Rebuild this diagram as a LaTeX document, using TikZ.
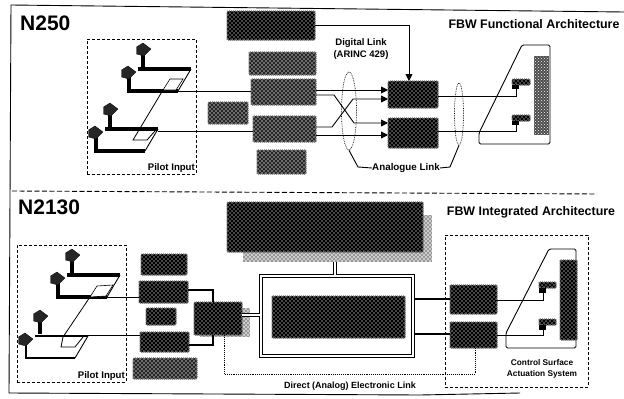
\documentclass[tikz,border=0pt]{standalone}
\usepackage{fontspec}
\setmainfont{Liberation Sans}
\usetikzlibrary{patterns,arrows.meta,shapes.geometric}
\pgfdeclarepatternformonly{hdots}{\pgfqpoint{-1pt}{-1pt}}{\pgfqpoint{3pt}{3pt}}{\pgfqpoint{4pt}{4pt}}{%
  \pgfpathcircle{\pgfqpoint{0pt}{0pt}}{0.8pt}\pgfpathcircle{\pgfqpoint{2pt}{2pt}}{0.8pt}\pgfusepath{fill}}
\tikzset{
  x=1pt,y=-1pt,
  blk/.style={rectangle,inner sep=0pt,outer sep=0pt,rounded corners=1pt,preaction={fill=black!85},pattern=hdots,pattern color=white!70!black,
     postaction={draw=black!55,line width=1.4pt,dash pattern=on 1pt off 1pt}},
  blkdark/.style={blk,preaction={fill=black},pattern color=black!45},
  panel/.style={rectangle,inner sep=0pt,outer sep=0pt,preaction={fill=black!70},pattern=crosshatch dots,pattern color=white},
  halo/.style={rectangle,inner sep=0pt,outer sep=0pt,preaction={fill=black!40},pattern=hdots,pattern color=white},
  frameline/.style={line width=0.9pt,black},
  dashbox/.style={rectangle,draw,inner sep=0pt,line width=0.9pt,dash pattern=on 3pt off 2pt},
  sep/.style={line width=0.9pt,dash pattern=on 5pt off 2.5pt},
  wire/.style={line width=0.9pt},
  wireb/.style={line width=1.1pt},
  arr/.style={wire,-{Triangle[length=7pt,width=7pt]}},
  dotl/.style={line width=0.9pt,densely dotted},
  ell/.style={ellipse,draw,line width=0.7pt,densely dotted,inner sep=0pt},
  lab/.style={font=\bfseries\fontsize{#1}{#1}\selectfont,inner sep=0pt,align=center},
  lab/.default=10,
  grippt/.style={fill=black!85,draw=black,line width=0.3pt},
  tailline/.style={line width=0.9pt,rounded corners=1.5pt},
}
\newcommand{\blk}[6][blk]{\node[#1,minimum width={(#5-#3)*1pt},minimum height={(#6-#4)*1pt}] (#2) at ({(#3+#5)/2},{(#4+#6)/2}) {};}
\newcommand{\grip}[2]{\begin{scope}[shift={(#1,#2)}]\fill[grippt] (-6.5,-3) -- (0,-7) -- (8,-1) -- (1,6) -- (-6.5,4) -- cycle;\end{scope}}
\newcommand{\stick}[3]{\begin{scope}[shift={(#1,#2)}]
  \draw[line width=#3,line join=miter] (9,-22) -- (62,-22);
  \draw[line width=0.9pt] (62,-22) -- (49,0);
  \draw[line width=#3] (49,0) -- (0,0) -- (0,-16);
  \draw[line width=3.5pt] (14,-38) -- (14,-24);
  \grip{14}{-41}\grip{-1}{-18}
\end{scope}}
\begin{document}
\begin{tikzpicture}
\useasboundingbox (0,0) rectangle (624,399);
% outer frame
\draw[frameline] (624,12) -- (11,5) -- (9,393) -- (420,395) -- (520,393);
% separator
\coordinate (sepL) at (12,191); \coordinate (sepR) at (597,194);
\draw[sep] (sepL) -- (sepR);

% ===== N250 =====
\node[lab=21,anchor=west] (n250) at (20,23) {N250};
\node[lab=12.4] (t250) at (534,24) {FBW Functional Architecture};
\node[dashbox,minimum width=109pt,minimum height=135pt] (pilotA) at (141.5,106.5) {};
\node[lab=9.6,anchor=south east] (piA) at (195,173) {Pilot Input};
\stick{129}{91}{3.5pt}
\stick{96}{151}{3.5pt}
\draw[fill=white,line width=0.6pt] (170,79) -- (183,79) -- (176,90) -- (163,90) -- cycle;
\draw[line width=0.8pt] (163,90) -- (133,140) -- (147,140) -- (155,131);
\coordinate (sA1) at (178,91); \coordinate (sA2) at (158,131);

\blk[blkdark]{topA}{227}{11}{315}{40}
\blk{a2}{249}{52}{316}{75}
\blk{a3}{251}{79}{316}{105}
\blk{a1}{208}{102}{248}{124}
\blk{a4}{253}{116}{316}{142}
\blk{a5}{257}{150}{306}{174}
\blk[blkdark]{fA}{388}{81}{438}{108}
\blk[blkdark]{fB}{388}{118}{438}{148}

\draw[wire] (sA1) -- (sA1 -| a3.west);
\draw[wire] (sA2) -- (sA2 -| a4.west);
\draw[wire,-{Triangle[length=7pt,width=7pt]}] (topA.east) -- (409,25.5) -- (fA.north -| 409,0);
\draw[arr] (a3.east |- 0,90) -- (fA.west |- 0,90);
\draw[arr] (a3.east |- 0,95) -- (334,95) -- (354,123) -- (fB.west |- 0,123);
\draw[arr] (a4.east |- 0,127) -- (332,127) -- (353,99) -- (fA.west |- 0,99);
\draw[arr] (a4.east |- 0,135) -- (fB.west |- 0,135);

\node[ell,minimum width=15pt,minimum height=78pt] (e1) at (349,111) {};
\node[ell,minimum width=9pt,minimum height=62pt] (e2) at (459,114) {};
\node[lab=9.5] (digi) at (361,49) {Digital Link\\[2pt](ARINC 429)};
\node[lab=9.8] (ana) at (406,168) {Analogue Link};
\draw[wire] (e1.south) -- (358,167) -- (ana.west);
\draw[wire] (ana.east) -- (450,167) -- (e2.south);

\draw[tailline] (479,133) -- (522,45) -- (550,45) -- (550,144) -- (479,144) -- cycle;
\blk[panel]{pA}{534}{56}{549}{135}
\blk[blkdark]{acA1}{512}{79}{530}{85}
\blk[blkdark]{acA2}{512}{115}{530}{121}
\fill (512,85) rectangle (519,89);
\fill (512,121) rectangle (519,125);
\draw[wire] (fA.east |- 0,96) -- (516,96) -- (516,87);
\draw[wire] (fB.east |- 0,131) -- (516,131) -- (516,123);

% ===== N2130 =====
\node[lab=21,anchor=west] (n2130) at (18,207) {N2130};
\node[lab=12.4] (t2130) at (531,212) {FBW Integrated Architecture};
\node[dashbox,minimum width=109pt,minimum height=137pt] (pilotB) at (71.5,313.5) {};
\node[lab=9.6,anchor=south east] (piB) at (125,381) {Pilot Input};
\stick{58}{297}{3.5pt}
\stick{26}{358}{2.2pt}
\draw[fill=white,line width=0.6pt] (97,286) -- (113,285) -- (106,296) -- (90,297) -- cycle;
\draw[line width=0.8pt] (90,297) -- (63,337) -- (61,347) -- (75,347) -- (83,337);
\coordinate (sB1) at (107,297); \coordinate (sB2) at (88,335);

\blk[blkdark]{b1}{141}{254}{187}{275}
\blk[blkdark]{b2}{139}{281}{188}{303}
\blk[blkdark]{b3}{146}{308}{176}{325}
\blk[blkdark]{b4}{140}{332}{189}{352}
\blk{b5}{133}{358}{197}{379}
\blk[halo]{procS}{200}{308}{250}{337}
\blk[blkdark]{proc}{194}{302}{242}{335}
\blk[halo]{bigS}{243}{215}{432}{262}
\blk[blkdark]{big}{227}{202}{423}{252}

\draw[wire] (sB1) -- (sB1 -| b2.west);
\draw[wire] (sB2) -- (sB2 -| b4.west);
\draw[wireb] (b2.east |- 0,290) -- (213,290) -- (213,302);
\draw[wireb] (b4.east |- 0,345) -- (213,345) -- (213,335);

\node[rectangle,draw,line width=1.4pt,double,double distance=1.4pt,fill=white,minimum width=152pt,minimum height=80pt,inner sep=0pt] (ipc) at (337,316) {};
\blk[blkdark]{core}{272}{296}{405}{338}
\draw[line width=0.9pt,double,double distance=1.5pt] (proc.east |- 0,315) -- (ipc.west |- 0,315);
\draw[line width=0.9pt,double,double distance=1.5pt] (335,262) -- (ipc.north -| 335,0);

\node[dashbox,minimum width=143pt,minimum height=152pt] (csas) at (516.5,311) {};
\blk[blkdark]{cA}{450}{285}{497}{314}
\blk[blkdark]{cB}{450}{322}{497}{348}
\draw[wireb] (ipc.east |- 0,299) -- (cA.west |- 0,299);
\draw[wireb] (ipc.east |- 0,334) -- (cB.west |- 0,334);

\draw[tailline] (506,333) -- (549,249) -- (576,249) -- (576,348) -- (506,348) -- cycle;
\blk[blkdark]{pB}{560}{260}{577}{340}
\blk[blkdark]{acB1}{539}{282}{556}{288}
\blk[blkdark]{acB2}{539}{319}{556}{325}
\fill (539,288) rectangle (546,293);
\fill (539,325) rectangle (546,330);
\draw[wire] (cA.east |- 0,300) -- (543,300) -- (543,293);
\draw[wire] (cB.east |- 0,335) -- (543,335) -- (543,330);

\coordinate (dl) at (224,374); \coordinate (dr) at (475,374);
\draw[dotl] (proc.south -| 224,0) -- (dl) -- (dr) -- (cB.south -| 475,0);
\node[lab=9] (direct) at (350,386) {Direct (Analog) Electronic Link};
\node[lab=8.3] (ctrl) at (542,369) {Control Surface\\[3pt]Actuation System};
\end{tikzpicture}
\end{document}
